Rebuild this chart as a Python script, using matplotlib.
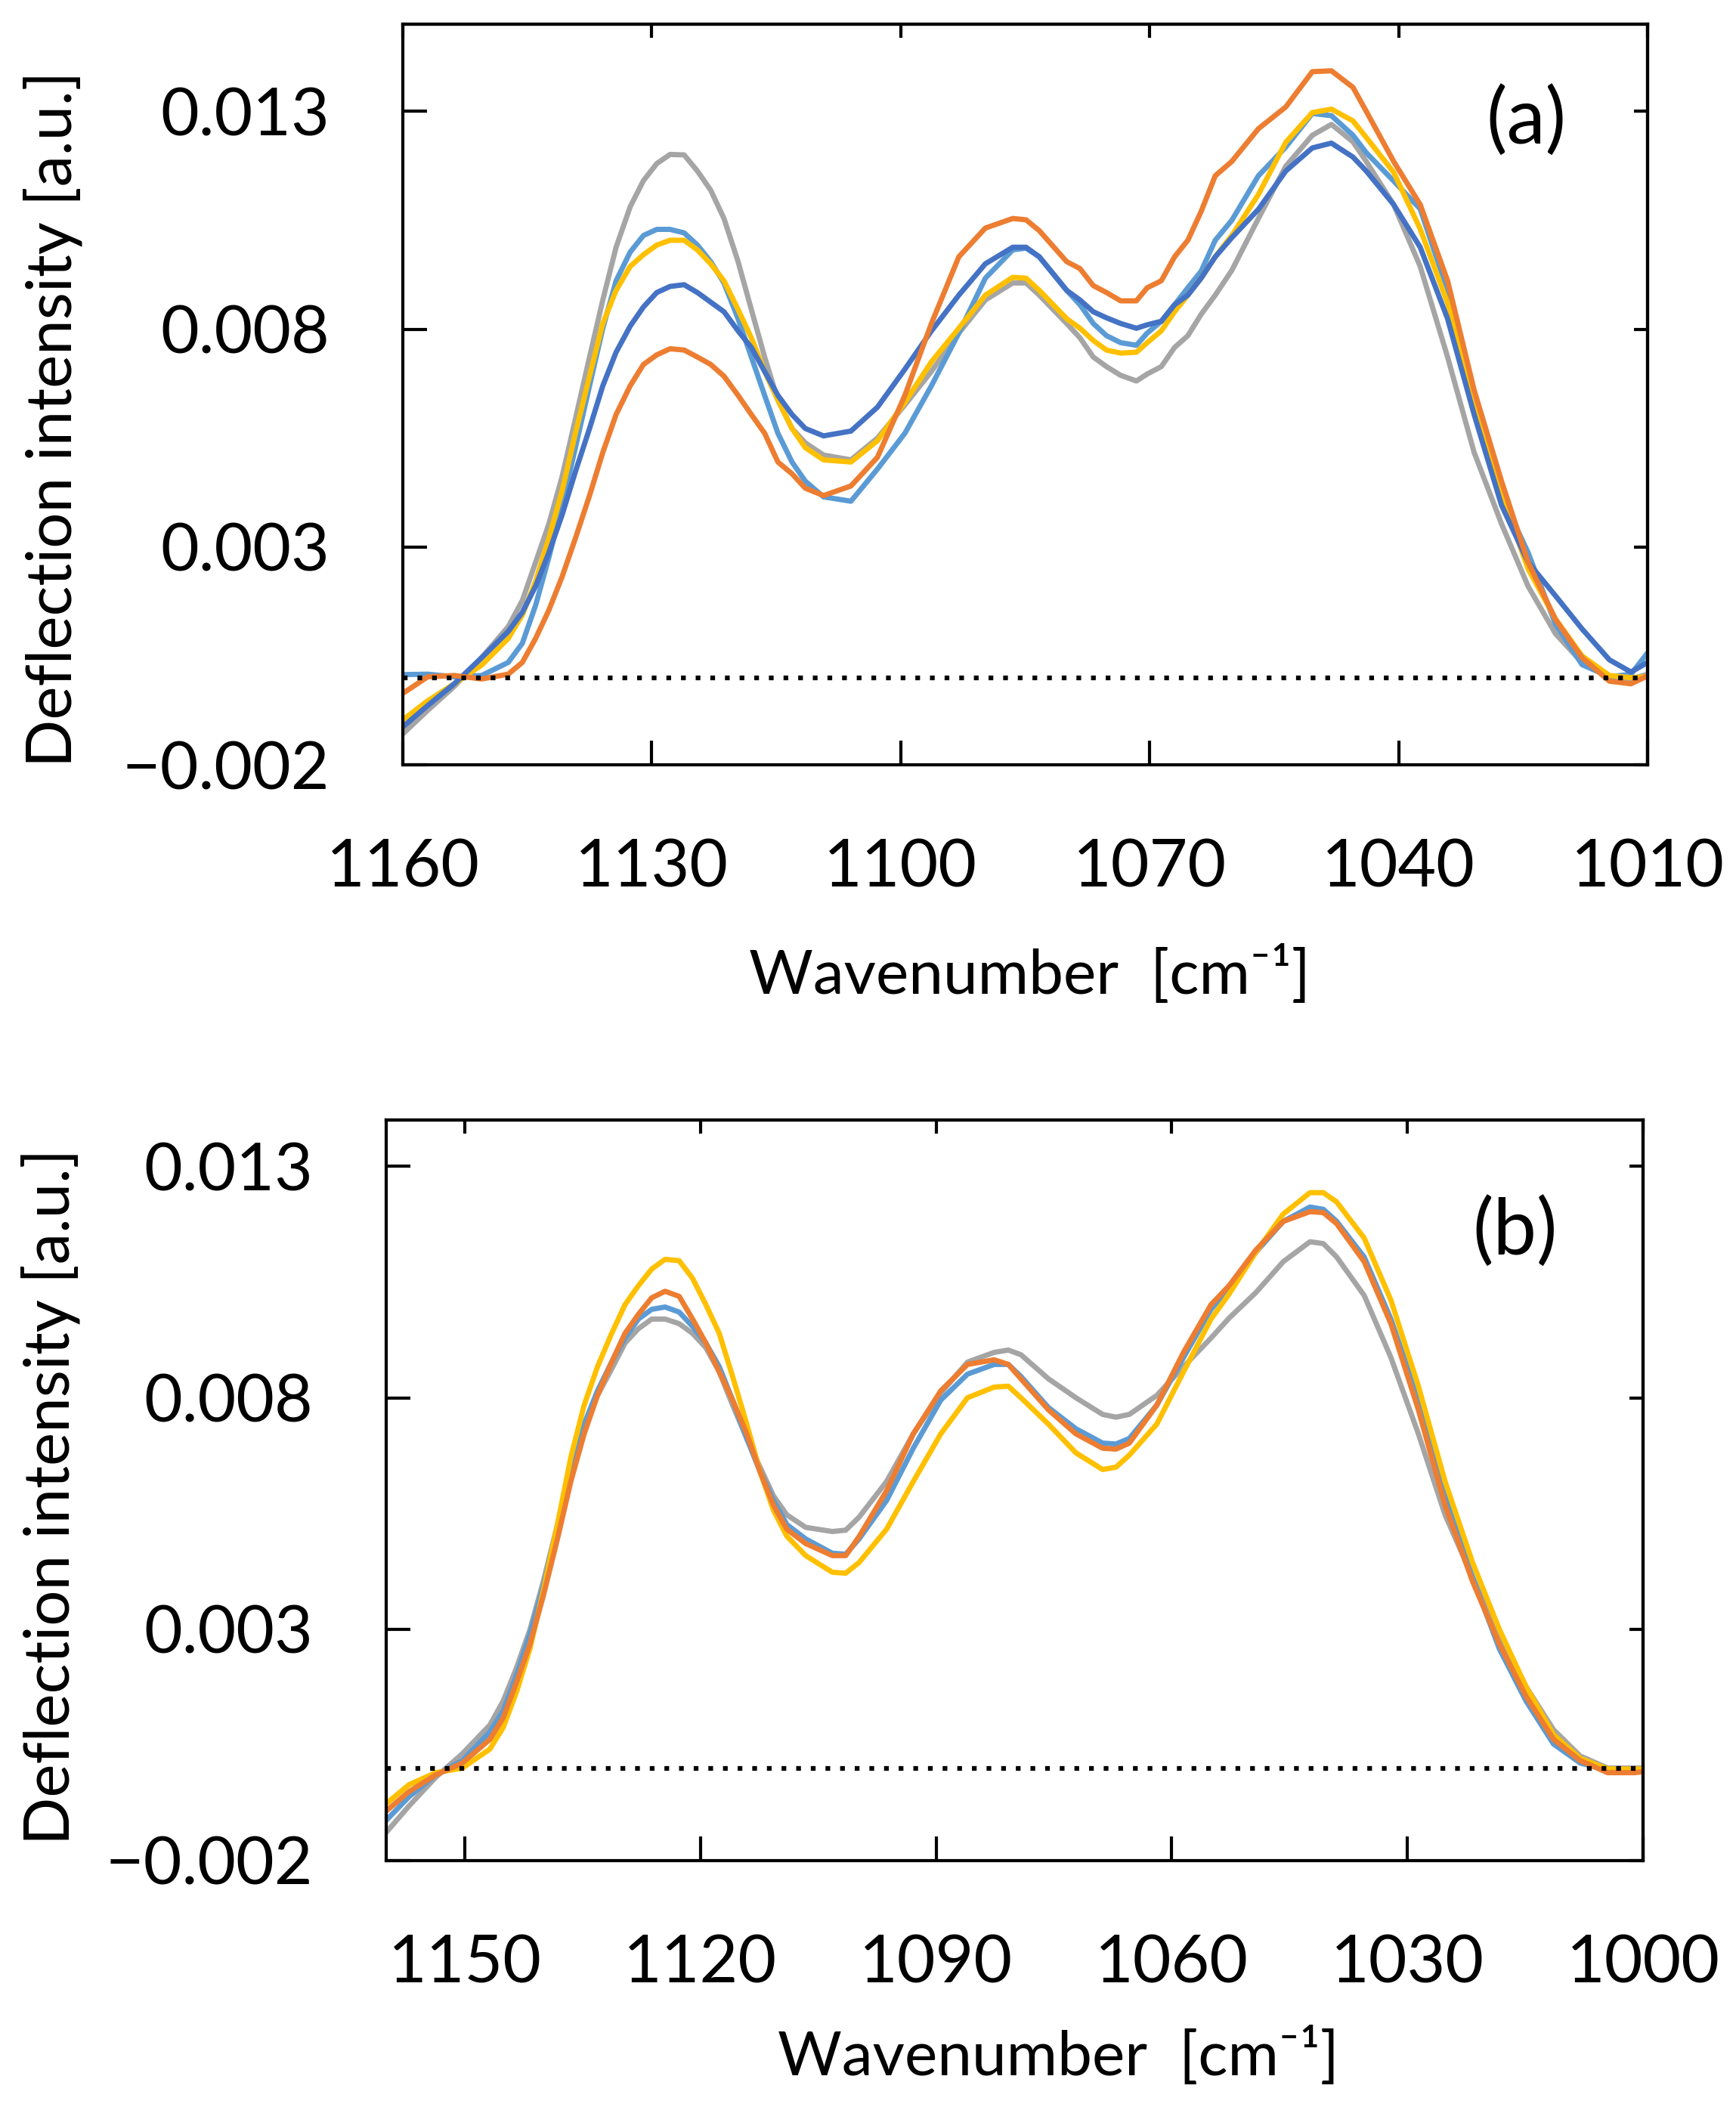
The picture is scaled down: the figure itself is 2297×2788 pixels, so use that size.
import matplotlib
matplotlib.use('Agg')
import matplotlib.pyplot as plt

plt.rcParams['font.family'] = ['Lato', 'DejaVu Sans']

# ---- panel (a): wavenumber grid [cm-1] and intensities [x1e-3 a.u.]
wn_a = [1160, 1157.0, 1153.8, 1150.5, 1147.3, 1145.6, 1144.0, 1142.4, 1140.8, 1139.2,
        1137.5, 1135.9, 1134.3, 1132.6, 1131.0, 1129.4, 1127.8, 1126.1, 1124.5, 1122.9,
        1121.3, 1119.6, 1118.0, 1116.4, 1114.8, 1113.1, 1111.5, 1109.3, 1106.0, 1102.8,
        1099.5, 1096.3, 1093.0, 1089.8, 1086.5, 1084.9, 1083.3, 1080.0, 1078.4, 1076.8,
        1075.2, 1073.5, 1071.6, 1070.3, 1068.6, 1067.0, 1065.4, 1063.8, 1062.1, 1060.1,
        1056.9, 1053.6, 1050.4, 1048.1, 1045.5, 1043.9, 1040.6, 1037.4, 1034.1, 1030.9,
        1027.6, 1024.4, 1021.1, 1017.9, 1014.6, 1012.0, 1010.0]

gray_a = [-1.29, -0.75, -0.20, 0.46, 1.17, 1.77, 2.65, 3.53, 4.62, 5.94,
          7.36, 8.67, 9.88, 10.81, 11.41, 11.80, 12.01, 12.00, 11.63, 11.19,
          10.54, 9.55, 8.45, 7.36, 6.37, 5.72, 5.39, 5.11, 5.00, 5.50,
          6.26, 7.03, 7.91, 8.67, 9.06, 9.06, 8.78, 8.13, 7.80, 7.36,
          7.14, 6.94, 6.81, 6.97, 7.14, 7.58, 7.85, 8.34, 8.78, 9.35,
          10.54, 11.74, 12.45, 12.70, 12.30, 11.85, 10.86, 9.44, 7.36, 5.17,
          3.53, 2.10, 1.01, 0.35, 0.02, -0.03, 0.08]

lblue_a = [0.07, 0.08, 0.02, 0.05, 0.35, 0.79, 1.66, 2.76, 3.96, 5.28,
           6.70, 8.02, 9.11, 9.77, 10.15, 10.29, 10.29, 10.21, 9.93, 9.55,
           9.06, 8.24, 7.36, 6.48, 5.61, 4.95, 4.51, 4.15, 4.05, 4.79,
           5.61, 6.70, 7.91, 9.17, 9.82, 9.86, 9.66, 8.89, 8.56, 8.13,
           7.85, 7.69, 7.63, 7.91, 8.18, 8.56, 8.95, 9.33, 10.04, 10.50,
           11.52, 12.18, 12.95, 12.90, 12.45, 12.05, 11.40, 10.76, 8.89, 6.37,
           4.18, 2.87, 1.23, 0.30, 0.02, 0.08, 0.57]

yellow_a = [-0.97, -0.53, -0.14, 0.29, 0.90, 1.44, 2.21, 3.20, 4.29, 5.61,
            6.92, 8.13, 8.89, 9.44, 9.71, 9.93, 10.04, 10.04, 9.82, 9.50,
            9.11, 8.45, 7.80, 7.03, 6.37, 5.72, 5.28, 5.00, 4.95, 5.44,
            6.32, 7.25, 8.02, 8.78, 9.19, 9.17, 8.89, 8.24, 8.02, 7.74,
            7.52, 7.45, 7.47, 7.69, 7.96, 8.40, 8.78, 9.17, 9.66, 10.15,
            11.09, 12.29, 12.97, 13.05, 12.78, 12.40, 11.60, 10.30, 8.60, 6.40,
            4.20, 2.50, 1.35, 0.50, 0.05, 0.00, 0.02]

dblue_a = [-1.13, -0.64, -0.14, 0.46, 1.06, 1.50, 2.10, 2.87, 3.74, 4.73,
           5.72, 6.70, 7.47, 8.07, 8.51, 8.84, 8.98, 9.02, 8.84, 8.62,
           8.40, 7.96, 7.58, 7.03, 6.48, 6.04, 5.72, 5.55, 5.66, 6.21,
           7.08, 7.96, 8.78, 9.50, 9.88, 9.88, 9.66, 8.89, 8.67, 8.40,
           8.26, 8.13, 8.02, 8.10, 8.18, 8.56, 8.78, 9.17, 9.66, 10.10,
           10.75, 11.63, 12.16, 12.27, 11.95, 11.63, 10.86, 9.88, 8.24, 6.04,
           3.96, 2.65, 1.88, 1.12, 0.41, 0.13, 0.35]

orange_a = [-0.36, 0.02, 0.05, -0.03, 0.08, 0.35, 0.90, 1.55, 2.32, 3.20,
            4.18, 5.17, 6.04, 6.70, 7.19, 7.41, 7.55, 7.52, 7.36, 7.19,
            6.92, 6.48, 6.04, 5.61, 4.95, 4.68, 4.35, 4.18, 4.40, 5.06,
            6.48, 8.13, 9.66, 10.32, 10.54, 10.51, 10.26, 9.55, 9.39, 9.00,
            8.84, 8.65, 8.65, 8.95, 9.11, 9.66, 10.04, 10.70, 11.52, 11.85,
            12.60, 13.10, 13.91, 13.93, 13.55, 13.00, 11.85, 10.86, 9.11, 6.60,
            4.51, 2.65, 1.34, 0.46, -0.08, -0.14, 0.04]

# ---- panel (b)
wn_b = [1160.0, 1157.1, 1153.7, 1150.3, 1146.8, 1145.1, 1143.4, 1141.7, 1140.0, 1138.2,
        1136.5, 1134.8, 1133.1, 1131.3, 1129.6, 1127.9, 1126.2, 1124.5, 1122.7, 1121.0,
        1119.3, 1117.6, 1115.9, 1114.1, 1112.4, 1110.7, 1109.0, 1106.6, 1103.2, 1101.5,
        1099.8, 1096.3, 1092.9, 1089.4, 1086.0, 1082.6, 1080.8, 1079.2, 1075.7, 1072.2,
        1068.8, 1067.1, 1065.4, 1061.9, 1058.5, 1055.0, 1052.7, 1049.3, 1045.8, 1042.4,
        1040.7, 1039.0, 1035.5, 1032.1, 1028.6, 1025.2, 1021.7, 1018.3, 1014.9, 1011.4,
        1008.0, 1004.5, 1001.1, 1000.0]

gray_b = [-1.39, -0.82, -0.20, 0.31, 0.93, 1.45, 2.17, 2.99, 4.03, 5.26,
          6.50, 7.43, 8.05, 8.62, 9.18, 9.49, 9.70, 9.70, 9.60, 9.39,
          9.08, 8.56, 7.84, 7.12, 6.50, 5.88, 5.47, 5.20, 5.11, 5.14,
          5.42, 6.19, 7.22, 8.10, 8.77, 8.98, 9.03, 8.93, 8.41, 8.00,
          7.64, 7.58, 7.64, 8.05, 8.67, 9.29, 9.72, 10.27, 10.94, 11.37,
          11.33, 11.04, 10.21, 8.87, 7.22, 5.47, 4.12, 2.89, 1.76, 0.83,
          0.26, 0.00, 0.00, 0.00]

lblue_b = [-1.13, -0.62, -0.15, 0.16, 0.78, 1.24, 2.01, 2.89, 3.92, 5.16,
           6.40, 7.43, 8.15, 8.77, 9.29, 9.70, 9.91, 9.96, 9.85, 9.54,
           9.18, 8.67, 7.95, 7.12, 6.40, 5.78, 5.26, 4.95, 4.64, 4.62,
           4.95, 5.78, 6.91, 7.95, 8.51, 8.72, 8.72, 8.46, 7.79, 7.33,
           7.02, 7.00, 7.12, 7.84, 8.87, 9.91, 10.37, 11.14, 11.81, 12.12,
           12.07, 11.81, 11.04, 9.70, 7.95, 5.88, 4.12, 2.58, 1.45, 0.52,
           0.11, -0.05, -0.05, -0.05]

yellow_b = [-0.77, -0.36, -0.10, 0.00, 0.41, 0.88, 1.65, 2.58, 3.82, 5.26,
            6.71, 7.84, 8.67, 9.39, 10.01, 10.42, 10.78, 10.99, 10.96, 10.58,
            10.01, 9.39, 8.46, 7.43, 6.40, 5.57, 5.01, 4.59, 4.23, 4.21,
            4.44, 5.16, 6.19, 7.22, 8.00, 8.23, 8.25, 8.00, 7.43, 6.81,
            6.45, 6.50, 6.76, 7.43, 8.56, 9.70, 10.24, 11.14, 11.97, 12.43,
            12.43, 12.23, 11.45, 10.11, 8.25, 6.19, 4.44, 3.00, 1.76, 0.72,
            0.21, -0.02, -0.02, -0.02]

orange_b = [-0.93, -0.51, -0.15, 0.11, 0.62, 1.09, 1.86, 2.68, 3.72, 4.95,
            6.19, 7.22, 8.05, 8.77, 9.39, 9.80, 10.16, 10.30, 10.19, 9.70,
            9.18, 8.56, 7.95, 7.22, 6.40, 5.68, 5.16, 4.85, 4.59, 4.59,
            5.00, 5.99, 7.22, 8.15, 8.72, 8.82, 8.72, 8.41, 7.74, 7.22,
            6.91, 6.89, 7.02, 7.84, 8.98, 10.01, 10.42, 11.19, 11.81, 12.02,
            12.00, 11.76, 10.94, 9.60, 7.74, 5.68, 4.03, 2.68, 1.55, 0.62,
            0.16, -0.10, -0.10, -0.08]

xticks_a = [1160, 1130, 1100, 1070, 1040, 1010]
xticks_b = [1150, 1120, 1090, 1060, 1030, 1000]
yticks = [-0.002, 0.003, 0.008, 0.013]
ytick_labels = ['\u22120.002', '0.003', '0.008', '0.013']

GRAY, LBLUE, YELLOW, DBLUE, ORANGE = '#A5A5A5', '#5B9BD5', '#FFC000', '#4472C4', '#ED7D31'

W, H = 2297, 2788
TICK_FS = 63
LABEL_FS = 59
LW = 5

fig = plt.figure(figsize=(W / 100, H / 100), dpi=100)
ax1 = fig.add_axes([533 / W, 1 - 1012 / H, 1647 / W, 980 / H])
ax2 = fig.add_axes([511 / W, 1 - 2462 / H, 1663 / W, 980 / H])


def setup(ax, xlim, ylim, xticks):
    ax.set_xlim(*xlim)
    ax.set_ylim(*ylim)
    ax.set_xticks(xticks)
    ax.set_xticklabels([str(t) for t in xticks])
    ax.set_yticks(yticks)
    ax.set_yticklabels(ytick_labels)
    ax.tick_params(direction='in', length=23, width=3, labelsize=TICK_FS)
    ax.tick_params(axis='x', pad=70)
    ax.tick_params(axis='y', pad=70)
    for s in ax.spines.values():
        s.set_linewidth(3)
    # short mirrored ticks on top and right
    top = ax.secondary_xaxis('top')
    top.set_xticks(xticks)
    top.tick_params(direction='in', length=13, width=3, labeltop=False)
    right = ax.secondary_yaxis('right')
    right.set_yticks(yticks)
    right.tick_params(direction='in', length=13, width=3, labelright=False)
    for s in list(top.spines.values()) + list(right.spines.values()):
        s.set_linewidth(3)
    ax.axhline(0, color='black', lw=4.5, linestyle=(0, (1, 2.1)), zorder=10)


setup(ax1, (1160, 1010), (-0.002, 0.015), xticks_a)
setup(ax2, (1160, 1000), (-0.002, 0.014), xticks_b)

for ys, c in [(gray_a, GRAY), (lblue_a, LBLUE), (yellow_a, YELLOW),
              (dblue_a, DBLUE), (orange_a, ORANGE)]:
    ax1.plot(wn_a, [v * 1e-3 for v in ys], color=c, lw=LW,
             solid_joinstyle='round', solid_capstyle='round')

for ys, c in [(gray_b, GRAY), (lblue_b, LBLUE), (yellow_b, YELLOW), (orange_b, ORANGE)]:
    ax2.plot(wn_b, [v * 1e-3 for v in ys], color=c, lw=LW,
             solid_joinstyle='round', solid_capstyle='round')

ylab = 'Deflection intensity [a.u.]'
xlab = 'Wavenumber  [cm\u207b\u00b9]'
fig.text(70 / W, 1 - 554 / H, ylab, rotation=90, ha='center', va='center', fontsize=60)
fig.text(67 / W, 1 - 1980 / H, ylab, rotation=90, ha='center', va='center', fontsize=60)
fig.text(1362 / W, 1 - 1290 / H, xlab, ha='center', va='center', fontsize=LABEL_FS)
fig.text(1400 / W, 1 - 2720 / H, xlab, ha='center', va='center', fontsize=LABEL_FS)
fig.text(2019 / W, 1 - 160 / H, '(a)', ha='center', va='center', fontsize=74)
fig.text(2005 / W, 1 - 1630 / H, '(b)', ha='center', va='center', fontsize=74)

fig.savefig('out.png', dpi=100)
